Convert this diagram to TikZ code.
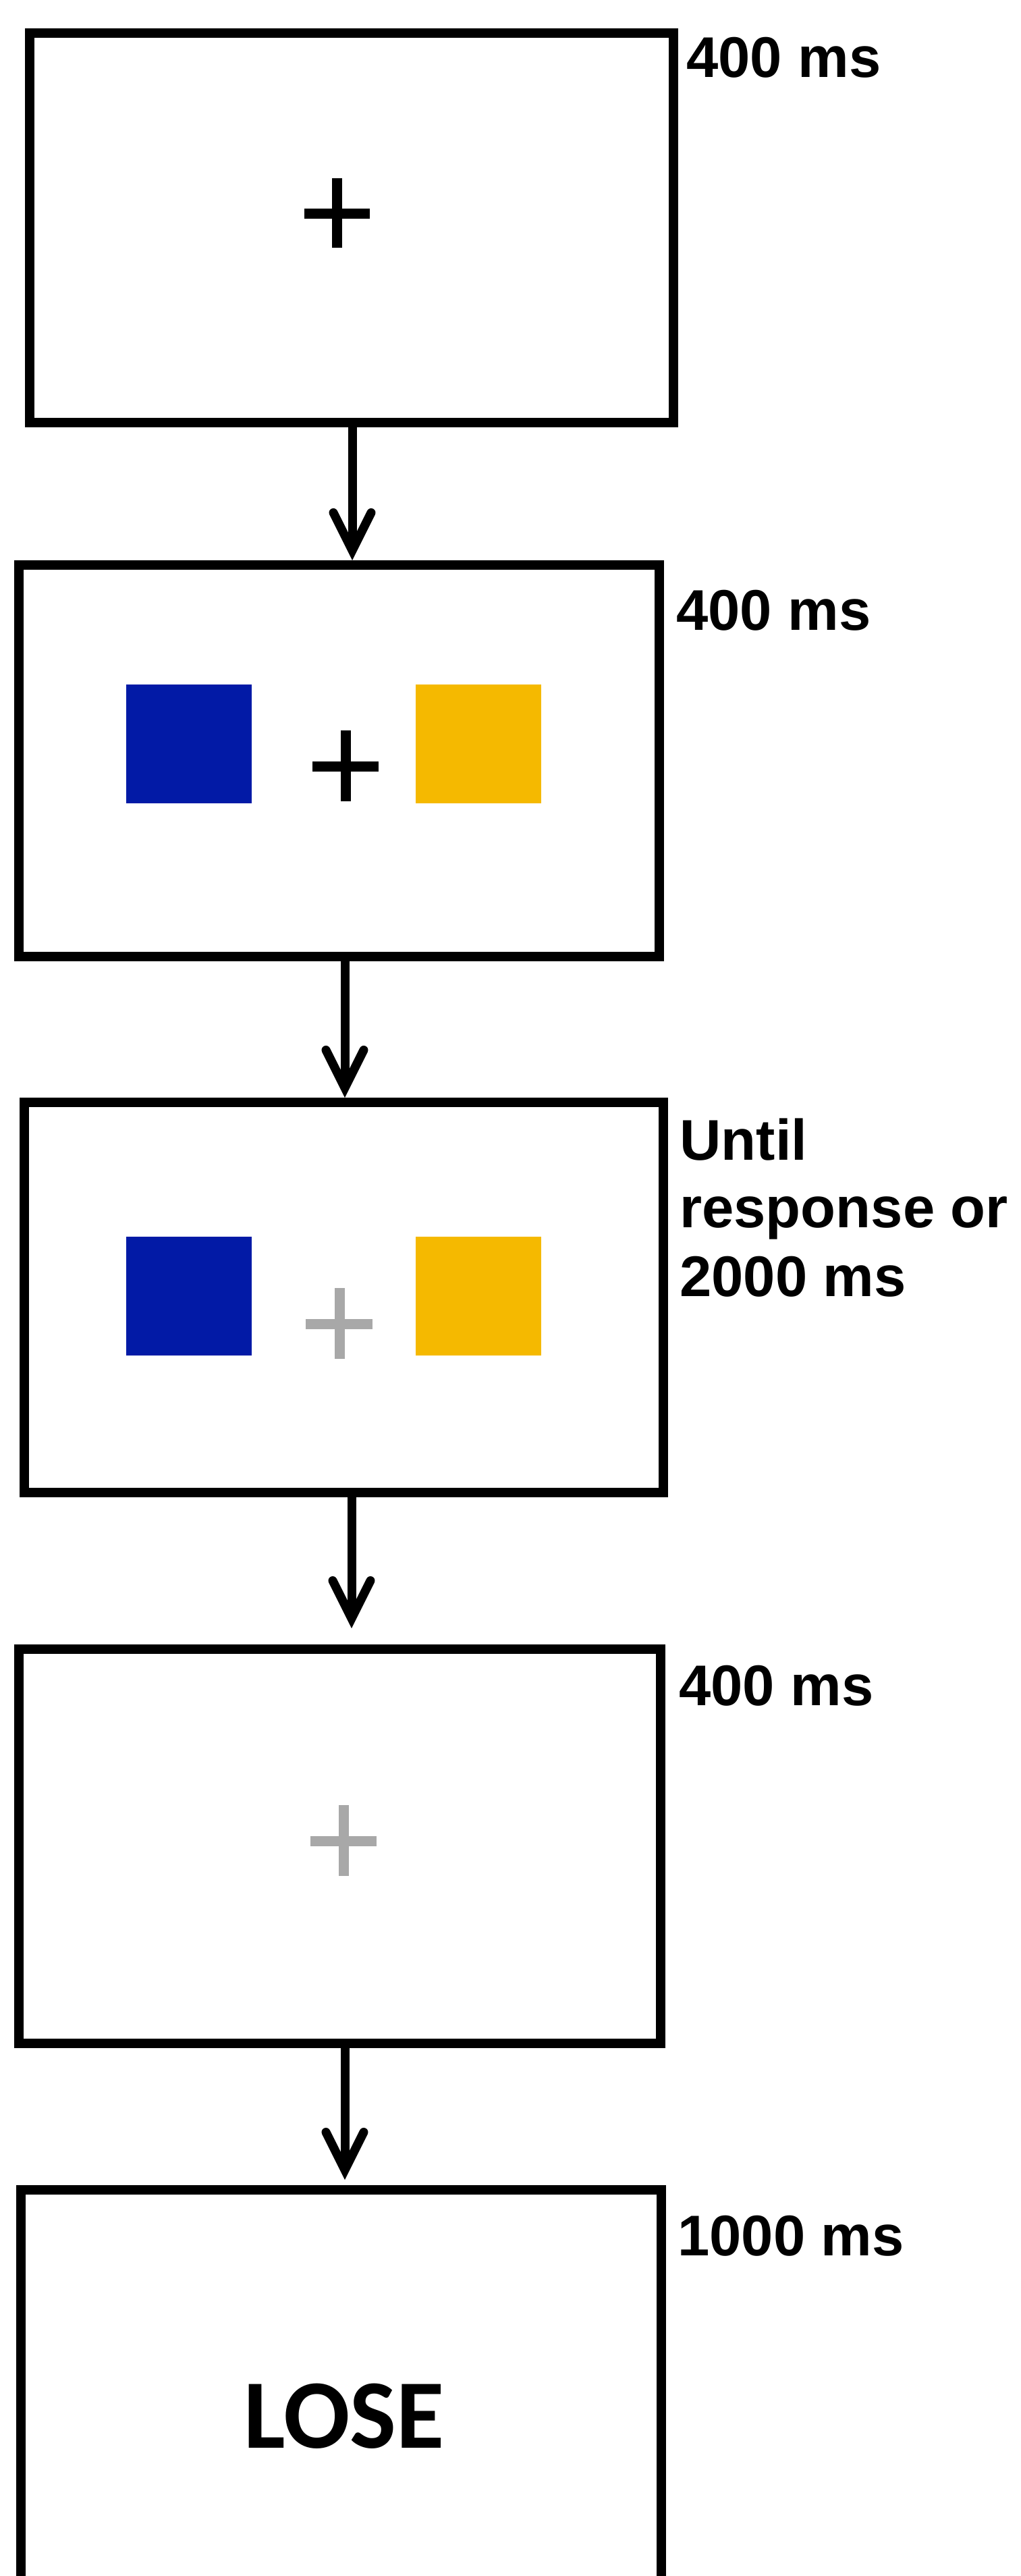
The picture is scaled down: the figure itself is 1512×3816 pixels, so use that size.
\documentclass[tikz,border=0pt]{standalone}
\usepackage{fontspec}
\setmainfont{Liberation Sans}
\newfontfamily\losefont{Carlito}
\usetikzlibrary{arrows.meta}
\definecolor{stimblue}{RGB}{2,26,166}
\definecolor{stimyellow}{RGB}{245,185,0}
\definecolor{fixgray}{RGB}{168,168,168}
\tikzset{
  screen/.style={draw=black, line width=7pt, rectangle, inner sep=0pt, outer sep=3.5pt},
  timing/.style={anchor=base west, inner sep=0pt, font=\bfseries\fontsize{42.5pt}{50.5pt}\selectfont},
  flow/.style={line width=6.5pt, -{Straight Barb[length=28pt, width=28pt, line join=miter, line cap=round]}},
  fixcross/.style={line width=7.5pt},
  patch/.style={rectangle, inner sep=0pt, outer sep=0pt, minimum width=93pt, minimum height=88pt}
}
\begin{document}
\begin{tikzpicture}[x=0.5pt,y=-0.5pt]
\path[use as bounding box, clip] (0,0) rectangle (1512,3816);
\fill[white] (0,0) rectangle (1512,3816);

% screens
\node[screen, minimum width=477pt, minimum height=288.5pt] (b1) at (521,337.5) {};
\node[screen, minimum width=474.5pt, minimum height=290pt] (b2) at (502.5,1127) {};
\node[screen, minimum width=473.5pt, minimum height=289pt] (b3) at (509.5,1922) {};
\node[screen, minimum width=475.5pt, minimum height=292pt] (b4) at (503.5,2735) {};
\node[screen, minimum width=474.5pt, minimum height=290pt] (b5) at (505.5,3534) {};

% stimuli
\node[patch, fill=stimblue] (bl2) at (280,1102) {};
\node[patch, fill=stimyellow] (ye2) at (709,1102) {};
\node[patch, fill=stimblue] (bl3) at (280,1920) {};
\node[patch, fill=stimyellow] (ye3) at (709,1920) {};

% fixation crosses
\draw[fixcross] (451,316) -- (548,316) (499.5,264) -- (499.5,367);
\draw[fixcross] (463,1135) -- (561,1135) (512,1082) -- (512,1187);
\draw[fixcross, fixgray] (453,1961) -- (552,1961) (503,1908) -- (503,2013);
\draw[fixcross, fixgray] (460,2727) -- (558,2727) (509,2674) -- (509,2779);

% feedback
\node[anchor=base, inner sep=0pt, font=\losefont\bfseries\fontsize{72.8pt}{80pt}\selectfont] (lose) at (510,3626) {LOSE};

% timings
\node[timing] (t1) at (1017,115) {400 ms};
\node[timing] (t2) at (1002,933) {400 ms};
\node[timing] (t3a) at (1007,1718) {Until};
\node[timing] (t3b) at (1007,1818) {response or};
\node[timing] (t3c) at (1007,1920) {2000 ms};
\node[timing] (t4) at (1006,2526) {400 ms};
\node[timing] (t5) at (1004,3341) {1000 ms};

% arrows
\coordinate (a1) at (522,0);
\coordinate (a2) at (511,0);
\coordinate (a3) at (521,0);
\coordinate (a4) at (511,0);
\coordinate (e3) at (521,2412);
\coordinate (e4) at (511,3229);
\draw[flow] (b1.south -| a1) -- (b2.north -| a1);
\draw[flow] (b2.south -| a2) -- (b3.north -| a2);
\draw[flow] (b3.south -| a3) -- (e3);
\draw[flow] (b4.south -| a4) -- (e4);
\end{tikzpicture}
\end{document}
